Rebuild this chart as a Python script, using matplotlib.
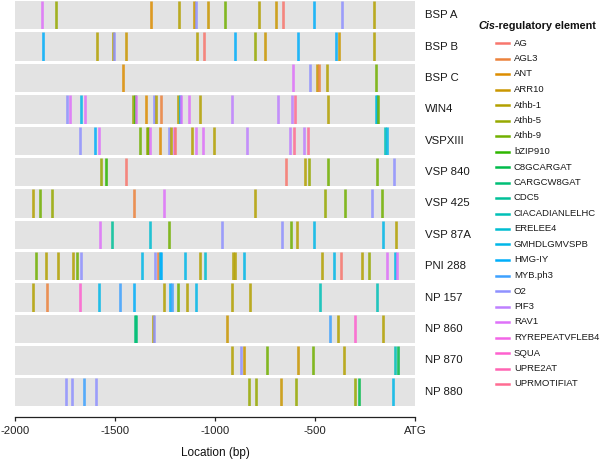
import matplotlib.pyplot as plt
from matplotlib.lines import Line2D
import numpy as np

plt.rcParams['font.family'] = ['Liberation Sans', 'DejaVu Sans']

ELEMENTS = ['AG', 'AGL3', 'ANT', 'ARR10', 'Athb-1', 'Athb-5', 'Athb-9', 'bZIP910',
            'C8GCARGAT', 'CARGCW8GAT', 'CDC5', 'CIACADIANLELHC', 'ERELEE4',
            'GMHDLGMVSPB', 'HMG-IY', 'MYB.ph3', 'O2', 'PIF3', 'RAV1',
            'RYREPEATVFLEB4', 'SQUA', 'UPRE2AT', 'UPRMOTIFIAT']

PROMOTERS = ['BSP A', 'BSP B', 'BSP C', 'WIN4', 'VSPXIII', 'VSP 840', 'VSP 425',
             'VSP 87A', 'PNI 288', 'NP 157', 'NP 860', 'NP 870', 'NP 880']

# (location in bp, element) for each promoter
BSP_A = [(-1865, 'RAV1'), (-1797, 'Athb-5'), (-1320, 'ANT'), (-1180, 'Athb-1'),
         (-1105, 'ARR10'), (-1097, 'O2'), (-1033, 'ARR10'), (-948, 'Athb-9'),
         (-780, 'Athb-1'), (-695, 'ARR10'), (-662, 'AG'), (-503, 'HMG-IY'),
         (-367, 'O2'), (-205, 'Athb-1')]
BSP_B = [(-1860, 'HMG-IY'), (-1590, 'Athb-1'), (-1512, 'Athb-1'), (-1503, 'O2'),
         (-1447, 'ARR10'), (-1088, 'Athb-1'), (-1055, 'AG'), (-902, 'HMG-IY'),
         (-802, 'Athb-5'), (-748, 'ARR10'), (-587, 'HMG-IY'), (-395, 'HMG-IY'),
         (-380, 'ARR10'), (-205, 'Athb-1')]
BSP_C = [(-1460, 'ANT'), (-612, 'RAV1'), (-523, 'O2'), (-492, 'ARR10'),
         (-478, 'AGL3'), (-440, 'Athb-1'), (-197, 'Athb-9')]
WIN4 = [(-1742, 'O2'), (-1727, 'RAV1'), (-1670, 'GMHDLGMVSPB'), (-1648, 'RAV1'),
        (-1408, 'Athb-5'), (-1402, 'bZIP910'), (-1395, 'RAV1'), (-1345, 'ANT'),
        (-1303, 'O2'), (-1297, 'Athb-1'), (-1270, 'AGL3'), (-1185, 'Athb-1'),
        (-1177, 'HMG-IY'), (-1168, 'RAV1'), (-1132, 'RAV1'), (-1077, 'Athb-1'),
        (-915, 'PIF3'), (-685, 'PIF3'), (-615, 'PIF3'), (-598, 'UPRMOTIFIAT'),
        (-435, 'Athb-1'), (-197, 'ERELEE4'), (-192, 'GMHDLGMVSPB'), (-185, 'Athb-9')]
VSPXIII = [(-1673, 'O2'), (-1602, 'HMG-IY'), (-1580, 'RAV1'), (-1375, 'Athb-9'),
           (-1340, 'Athb-5'), (-1335, 'Athb-9'), (-1327, 'RAV1'), (-1275, 'ANT'),
           (-1228, 'O2'), (-1220, 'Athb-1'), (-1207, 'RAV1'), (-1198, 'AG'),
           (-1113, 'Athb-1'), (-1097, 'RAV1'), (-1060, 'RAV1'), (-1005, 'Athb-1'),
           (-840, 'PIF3'), (-625, 'PIF3'), (-607, 'UPRMOTIFIAT'), (-555, 'PIF3'),
           (-537, 'UPRMOTIFIAT'), (-148, 'CIACADIANLELHC'), (-142, 'GMHDLGMVSPB')]
VSP_840 = [(-1568, 'Athb-5'), (-1545, 'bZIP910'), (-1443, 'AG'), (-643, 'AG'),
           (-550, 'Athb-1'), (-530, 'Athb-5'), (-433, 'Athb-9'), (-188, 'Athb-9'),
           (-103, 'O2')]
VSP_425 = [(-1910, 'Athb-1'), (-1877, 'Athb-9'), (-1813, 'Athb-5'), (-1403, 'AGL3'),
           (-1257, 'RAV1'), (-800, 'Athb-1'), (-448, 'Athb-5'), (-352, 'Athb-9'),
           (-215, 'O2'), (-165, 'Athb-9')]
VSP_87A = [(-1577, 'RAV1'), (-1517, 'CDC5'), (-1327, 'ERELEE4'), (-1230, 'Athb-9'),
           (-965, 'O2'), (-663, 'O2'), (-622, 'Athb-9'), (-592, 'Athb-1'),
           (-505, 'GMHDLGMVSPB'), (-160, 'GMHDLGMVSPB'), (-95, 'Athb-1')]
PNI_288 = [(-1897, 'Athb-9'), (-1843, 'Athb-1'), (-1783, 'Athb-1'), (-1710, 'Athb-1'),
           (-1690, 'Athb-9'), (-1668, 'O2'), (-1367, 'GMHDLGMVSPB'), (-1300, 'O2'),
           (-1287, 'AGL3'), (-1275, 'GMHDLGMVSPB'), (-1270, 'HMG-IY'),
           (-1150, 'GMHDLGMVSPB'), (-1073, 'Athb-1'), (-1048, 'ERELEE4'),
           (-912, 'Athb-1'), (-900, 'Athb-1'), (-855, 'GMHDLGMVSPB'), (-465, 'Athb-1'),
           (-405, 'GMHDLGMVSPB'), (-368, 'AG'), (-267, 'Athb-1'), (-232, 'Athb-5'),
           (-138, 'RAV1'), (-98, 'GMHDLGMVSPB'), (-88, 'RAV1')]
NP_157 = [(-1908, 'Athb-1'), (-1840, 'AGL3'), (-1675, 'SQUA'), (-1578, 'GMHDLGMVSPB'),
          (-1473, 'MYB.ph3'), (-1403, 'HMG-IY'), (-1255, 'Athb-1'), (-1223, 'HMG-IY'),
          (-1215, 'MYB.ph3'), (-1183, 'Athb-9'), (-1140, 'Athb-1'),
          (-1095, 'GMHDLGMVSPB'), (-913, 'Athb-1'), (-823, 'Athb-1'),
          (-477, 'CIACADIANLELHC'), (-188, 'CIACADIANLELHC')]
NP_860 = [(-1400, 'CARGCW8GAT'), (-1394, 'CARGCW8GAT'), (-1310, 'Athb-1'),
          (-1306, 'O2'), (-942, 'ARR10'), (-425, 'MYB.ph3'), (-385, 'Athb-1'),
          (-300, 'SQUA'), (-162, 'Athb-1')]
NP_870 = [(-915, 'Athb-1'), (-870, 'O2'), (-857, 'ARR10'), (-740, 'Athb-9'),
          (-587, 'ARR10'), (-508, 'Athb-9'), (-355, 'Athb-1'),
          (-102, 'CIACADIANLELHC'), (-87, 'C8GCARGAT')]
NP_880 = [(-1745, 'O2'), (-1715, 'O2'), (-1657, 'MYB.ph3'), (-1593, 'O2'),
          (-828, 'Athb-5'), (-797, 'Athb-5'), (-668, 'ARR10'), (-595, 'Athb-5'),
          (-298, 'Athb-5'), (-282, 'C8GCARGAT'), (-108, 'GMHDLGMVSPB')]

SITES = [BSP_A, BSP_B, BSP_C, WIN4, VSPXIII, VSP_840, VSP_425, VSP_87A,
         PNI_288, NP_157, NP_860, NP_870, NP_880]

TICKS = [-2000, -1500, -1000, -500, 0]
TICK_LABELS = ['-2000', '-1500', '-1000', '-500', 'ATG']


def hue_pal(n, l=65, c=100):
    # ggplot2-style evenly spaced HCL hues
    out = []
    for h in np.linspace(15, 375, n + 1)[:-1]:
        hr = np.deg2rad(h)
        u, v = c * np.cos(hr), c * np.sin(hr)
        Xn, Yn, Zn = 95.047, 100.0, 108.883
        den = Xn + 15 * Yn + 3 * Zn
        un, vn = 4 * Xn / den, 9 * Yn / den
        Y = Yn * ((l + 16) / 116) ** 3
        up, vp = u / (13 * l) + un, v / (13 * l) + vn
        X = 9 * Y * up / (4 * vp)
        Z = Y * (12 - 3 * up - 20 * vp) / (4 * vp)
        M = np.array([[3.2404542, -1.5371385, -0.4985314],
                      [-0.9692660, 1.8760108, 0.0415560],
                      [0.0556434, -0.2040259, 1.0572252]])
        rgb = M @ (np.array([X, Y, Z]) / 100)
        rgb = np.clip(rgb, 0, None)
        rgb = np.where(rgb <= 0.0031308, 12.92 * rgb, 1.055 * rgb ** (1 / 2.4) - 0.055)
        out.append(tuple(np.clip(rgb, 0, 1)))
    return out


COLORS = dict(zip(ELEMENTS, hue_pal(len(ELEMENTS))))

W, H = 600, 467
fig, axes = plt.subplots(len(PROMOTERS), 1, figsize=(6, 4.67), dpi=100,
                         gridspec_kw=dict(left=15 / W, right=415 / W, top=1 - 1 / H,
                                          bottom=1 - 406 / H, hspace=0.105))

for ax, name, sites in zip(axes, PROMOTERS, SITES):
    ax.set_facecolor('#E3E3E3')
    ax.set_xlim(-2000, 0)
    ax.set_ylim(0, 1)
    for pos, el in sites:
        ax.vlines(pos, 0, 1, color=COLORS[el], lw=1.9, alpha=0.85)
    for s in ax.spines.values():
        s.set_visible(False)
    ax.set_yticks([])
    ax.set_xticks([])
    ax.text(1.025, 0.5, name, transform=ax.transAxes, ha='left', va='center',
            fontsize=8.2, color='#1a1a1a')

bot = axes[-1]
bot.spines['bottom'].set_visible(True)
bot.spines['bottom'].set_position(('outward', 8))
bot.spines['bottom'].set_linewidth(0.9)
bot.spines['bottom'].set_color('#222222')
bot.set_xticks(TICKS)
bot.set_xticklabels(TICK_LABELS)
bot.tick_params(axis='x', length=3, width=0.9, color='#222222', pad=3.5,
                labelsize=8.2, labelcolor='#222222')
bot.set_xlabel('Location (bp)', fontsize=8.5, color='#111111', labelpad=8)

# legend
fs_leg = 6.8
for i, el in enumerate(ELEMENTS):
    y = 1 - (43 + i * 15.5) / H
    fig.add_artist(Line2D([496 / W, 509 / W], [y, y], transform=fig.transFigure,
                          color=COLORS[el], lw=1.8))
    fig.text(514 / W, y, el, fontsize=fs_leg, va='center', ha='left', color='#1a1a1a')

t1 = fig.text(478 / W, 1 - 26 / H, 'Cis', fontsize=7.8, weight='bold', style='italic',
              va='center', ha='left', color='#111111')
fig.canvas.draw()
bb = t1.get_window_extent().transformed(fig.transFigure.inverted())
fig.text(bb.x1, 1 - 26 / H, '-regulatory element', fontsize=7.8, weight='bold',
         va='center', ha='left', color='#111111')

fig.savefig('out.png', dpi=100)
